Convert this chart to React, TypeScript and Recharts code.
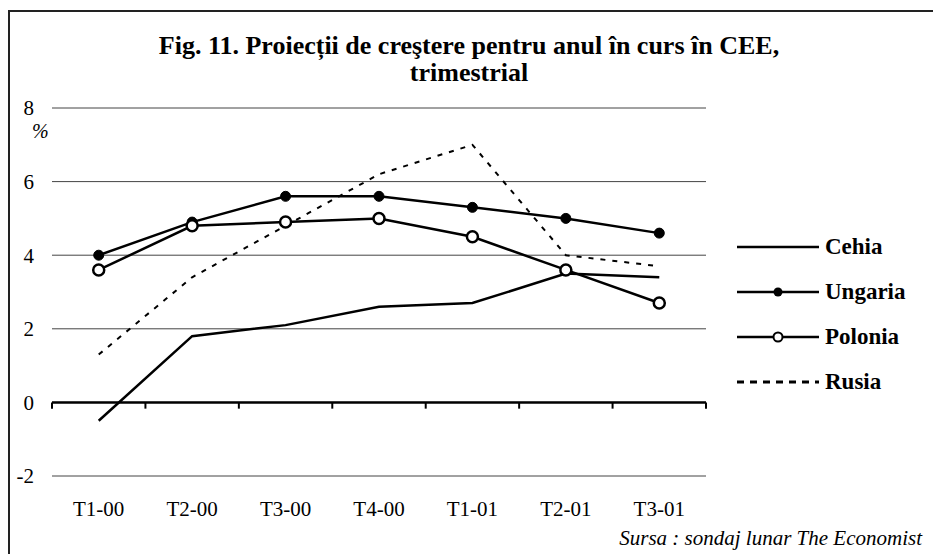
import React from 'react';
import { LineChart, Line, XAxis, YAxis, CartesianGrid, ReferenceLine, Legend } from 'recharts';

const categories = ['T1-00', 'T2-00', 'T3-00', 'T4-00', 'T1-01', 'T2-01', 'T3-01'];
const cehia = [-0.5, 1.8, 2.1, 2.6, 2.7, 3.5, 3.4];
const ungaria = [4.0, 4.9, 5.6, 5.6, 5.3, 5.0, 4.6];
const polonia = [3.6, 4.8, 4.9, 5.0, 4.5, 3.6, 2.7];
const rusia = [1.3, 3.4, 4.8, 6.2, 7.0, 4.0, 3.7];
const yTicks = [-2, 0, 2, 4, 6, 8];
const seriesOrder = ['Cehia', 'Ungaria', 'Polonia', 'Rusia'];

const data = categories.map((c, i) => ({
  idx: i,
  cat: c,
  Cehia: cehia[i],
  Ungaria: ungaria[i],
  Polonia: polonia[i],
  Rusia: rusia[i],
}));

const xTicks = categories.map((_, i) => i);
const boundaries = [...categories.map((_, i) => i - 0.5), categories.length - 0.5];

const FONT = '"Liberation Serif", "Times New Roman", serif';

const legendStyle: Record<string, { dash?: string; marker?: 'filled' | 'open' }> = {
  Cehia: {},
  Ungaria: { marker: 'filled' },
  Polonia: { marker: 'open' },
  Rusia: { dash: '7 6' },
};

const renderLegend = (props: any) => {
  const payload = props.payload || [];
  const ordered = seriesOrder
    .map((name) => payload.find((p: any) => p.value === name))
    .filter(Boolean);
  return (
    <div style={{ fontFamily: FONT }}>
      {ordered.map((p: any) => {
        const st = legendStyle[p.value] || {};
        return (
          <div key={p.value} style={{ height: 45, display: 'flex', alignItems: 'center' }}>
            <svg width={82} height={14} style={{ display: 'block' }}>
              <line x1={0} y1={7} x2={82} y2={7} stroke="#000" strokeWidth={st.dash ? 3 : 2.5} strokeDasharray={st.dash} />
              {st.marker === 'filled' && <circle cx={41} cy={7} r={4.5} fill="#000" />}
              {st.marker === 'open' && <circle cx={41} cy={7} r={4.5} fill="#fff" stroke="#000" strokeWidth={2} />}
            </svg>
            <span style={{ marginLeft: 6, fontWeight: 'bold', fontSize: 23, color: '#000' }}>{p.value}</span>
          </div>
        );
      })}
    </div>
  );
};

export default function App() {
  return (
    <div style={{ position: 'absolute', left: 0, top: 0, width: 933, height: 554, overflow: 'hidden', background: '#fff' }}>
      <div style={{ position: 'absolute', left: 8, top: 10, width: 1000, height: 1000, border: '2px solid #222', boxSizing: 'border-box' }} />
      <LineChart
        width={933}
        height={554}
        data={data}
        margin={{ top: 108, right: 227, bottom: 48, left: 8 }}
        style={{ position: 'absolute', left: 0, top: 0 }}
      >
        <CartesianGrid vertical={false} stroke="#444" strokeWidth={1} />
        <XAxis
          dataKey="idx"
          type="number"
          domain={[-0.5, categories.length - 0.5]}
          ticks={xTicks}
          tickFormatter={(v: number) => categories[v]}
          axisLine={false}
          tickLine={false}
          tickSize={0}
          tickMargin={25}
          height={30}
          tick={{ fill: '#000', fontSize: 21, fontFamily: FONT }}
          interval={0}
        />
        <YAxis
          domain={[-2, 8]}
          ticks={yTicks}
          axisLine={false}
          tickLine={false}
          tickSize={0}
          tickMargin={18}
          width={44}
          tick={{ fill: '#000', fontSize: 21, fontFamily: FONT }}
          interval={0}
        />
        <ReferenceLine y={0} stroke="#000" strokeWidth={2.5} />
        {boundaries.map((b) => (
          <ReferenceLine
            key={b}
            segment={[{ x: b, y: 0 }, { x: b, y: -0.17 }]}
            stroke="#000"
            strokeWidth={2}
          />
        ))}
        <Line dataKey="Cehia" stroke="#000" strokeWidth={2.5} dot={false} isAnimationActive={false} />
        <Line
          dataKey="Ungaria"
          stroke="#000"
          strokeWidth={2.5}
          dot={{ r: 5, fill: '#000', stroke: '#000', strokeWidth: 1 }}
          isAnimationActive={false}
        />
        <Line
          dataKey="Polonia"
          stroke="#000"
          strokeWidth={2.5}
          dot={{ r: 5.5, fill: '#fff', stroke: '#000', strokeWidth: 2.5 }}
          isAnimationActive={false}
        />
        <Line dataKey="Rusia" stroke="#000" strokeWidth={2} strokeDasharray="5 7" dot={false} isAnimationActive={false} />
        <Legend
          layout="vertical"
          align="center"
          verticalAlign="middle"
          content={renderLegend}
          wrapperStyle={{ left: 737, top: 224, width: 190 }}
        />
      </LineChart>
      <div
        style={{
          position: 'absolute',
          left: 0,
          width: 938,
          top: 32,
          textAlign: 'center',
          fontFamily: FONT,
          fontWeight: 'bold',
          fontSize: 26,
          lineHeight: '27px',
          color: '#000',
          whiteSpace: 'nowrap',
        }}
      >
        Fig. 11. Proiecții de creştere pentru anul în curs în CEE,
        <br />
        trimestrial
      </div>
      <div style={{ position: 'absolute', left: 32, top: 121, fontFamily: FONT, fontStyle: 'italic', fontSize: 20, lineHeight: '20px', color: '#000' }}>
        %
      </div>
      <div
        style={{
          position: 'absolute',
          right: 11,
          top: 528,
          fontFamily: FONT,
          fontStyle: 'italic',
          fontSize: 21,
          lineHeight: '21px',
          color: '#000',
          whiteSpace: 'nowrap',
        }}
      >
        Sursa : sondaj lunar The Economist
      </div>
    </div>
  );
}
